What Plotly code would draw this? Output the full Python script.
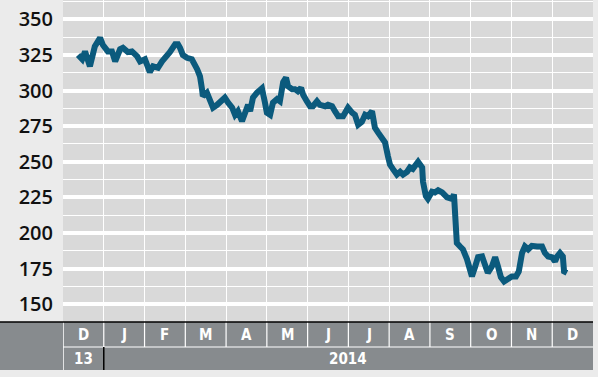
import plotly.graph_objects as go

# ---------------- data ----------------
# time position in months since 1 Dec 2013 (0 = start of Dec 2013)
t = [0.37, 0.47, 0.54, 0.66, 0.78, 0.91, 0.98, 1.10, 1.20, 1.28, 1.40, 1.47, 1.59, 1.69,
     1.82, 1.89, 2.01, 2.13, 2.21, 2.33, 2.43, 2.55, 2.62, 2.75, 2.82, 2.87, 2.94, 3.04,
     3.16, 3.29, 3.36, 3.41, 3.43, 3.53, 3.61, 3.68, 3.78, 3.90, 3.97, 4.05, 4.15, 4.22,
     4.29, 4.39, 4.46, 4.54, 4.59, 4.66, 4.76, 4.88, 4.95, 5.00, 5.08, 5.15, 5.25, 5.32,
     5.40, 5.47, 5.52, 5.62, 5.69, 5.76, 5.84, 5.89, 5.98, 6.06, 6.13, 6.23, 6.30, 6.43,
     6.50, 6.60, 6.67, 6.75, 6.87, 6.99, 7.09, 7.16, 7.24, 7.33, 7.41, 7.48, 7.58, 7.65,
     7.73, 7.82, 7.90, 7.97, 8.02, 8.09, 8.19, 8.27, 8.34, 8.44, 8.51, 8.58, 8.71, 8.81,
     8.83, 8.90, 8.95, 9.05, 9.12, 9.20, 9.30, 9.42, 9.54, 9.59, 9.64, 9.66, 9.74, 9.81,
     9.91, 9.96, 10.03, 10.11, 10.18, 10.28, 10.35, 10.42, 10.52, 10.60, 10.67, 10.74,
     10.82, 10.91, 11.01, 11.11, 11.18, 11.26, 11.33, 11.41, 11.50, 11.63, 11.75, 11.82,
     11.90, 11.99, 12.07, 12.12, 12.19, 12.26, 12.29, 12.36]
price = [325, 322, 327.5, 317, 331, 337, 332, 327.5, 327.5, 320.5, 329, 330, 327, 327.5,
         324, 320.5, 322, 313, 317, 316, 320.5, 324, 327, 332.5, 332.5, 330, 325, 323,
         322, 315, 310, 301, 296, 298.5, 291.5, 288, 290, 292.5, 295, 291.5, 288, 283,
         285.5, 278.5, 283, 290, 285.5, 295, 298.5, 301.5, 292, 284.5, 283, 291.5, 294, 292.5,
         306, 309, 303, 301, 301, 299.5, 302, 297, 292.5, 289, 289, 292.5, 290, 289,
         290, 289, 285.5, 282, 282, 288, 284.5, 283, 276, 278, 283, 282, 285.5, 274,
         270.5, 266, 263.5, 254, 248, 245, 241, 243, 241, 243, 246, 245, 250, 246,
         236, 226, 224, 229, 228.5, 230, 228.5, 225, 224, 227, 209.5, 193, 190.5, 188.5,
         181.5, 174.5, 169.5, 176.5, 183, 183.5, 179, 172, 176.5, 183, 176.5, 169,
         166, 167.5, 169.5, 169.5, 173, 186, 190.5, 188.5, 191, 190.5, 190.5, 186,
         183.5, 183, 180, 183.5, 186, 183.5, 173, 172]

month_labels = ["D", "J", "F", "M", "A", "M", "J", "J", "A", "S", "O", "N", "D"]
year_labels = ["13", "2014"]
y_ticks = [150, 175, 200, 225, 250, 275, 300, 325, 350]

# ---------------- layout constants (pixels) ----------------
W, H = 598, 377
ML, MR, MT, MB = 63, 5, 0, 55
PW = W - ML - MR
PH = H - MT - MB
BAND_TOP = 322
ROW_SPLIT = 347
BAND_BOT = 370


def px_x(px):
    return (px - ML) / PW


def px_y(py):
    return 1 - (py - MT) / PH


LINE_COLOR = "#0b5a7d"
PLOT_BG = "#d9d9d9"
PANEL_BG = "#ebebeb"
BAND = "#878b8e"
n_months = len(month_labels)

fig = go.Figure()
fig.add_trace(go.Scatter(x=t, y=price, mode="lines",
                         line=dict(color=LINE_COLOR, width=6),
                         hoverinfo="skip", showlegend=False))

shapes = []
# dark axis band
shapes.append(dict(type="rect", xref="paper", yref="paper",
                   x0=px_x(0), x1=px_x(ML + PW), y0=px_y(BAND_BOT), y1=px_y(BAND_TOP),
                   fillcolor=BAND, line=dict(width=0), layer="above"))
# white line separating rows
shapes.append(dict(type="line", xref="paper", yref="paper",
                   x0=px_x(ML), x1=px_x(ML + PW), y0=px_y(ROW_SPLIT), y1=px_y(ROW_SPLIT),
                   line=dict(color="white", width=1.2), layer="above"))
# white line at left of band
shapes.append(dict(type="line", xref="x", yref="paper",
                   x0=0, x1=0, y0=px_y(BAND_BOT), y1=px_y(BAND_TOP),
                   line=dict(color="white", width=1.5), layer="above"))
# month separators
for k in range(1, n_months):
    shapes.append(dict(type="line", xref="x", yref="paper",
                       x0=k, x1=k, y0=px_y(ROW_SPLIT), y1=px_y(BAND_TOP),
                       line=dict(color="white", width=1.2), layer="above"))
# year separator
shapes.append(dict(type="line", xref="x", yref="paper",
                   x0=1, x1=1, y0=px_y(BAND_BOT), y1=px_y(ROW_SPLIT),
                   line=dict(color="black", width=1.5), layer="above"))
# black top line of band
shapes.append(dict(type="line", xref="paper", yref="paper",
                   x0=px_x(0), x1=px_x(ML + PW), y0=px_y(BAND_TOP), y1=px_y(BAND_TOP),
                   line=dict(color="black", width=1.5), layer="above"))

annotations = []
label_font = dict(family="DejaVu Sans Condensed", size=15, color="white", weight="bold")
for k, lab in enumerate(month_labels):
    annotations.append(dict(x=k + 0.5, xref="x", y=px_y((BAND_TOP + ROW_SPLIT) / 2),
                            yref="paper", text=lab, showarrow=False, font=label_font,
                            xanchor="center", yanchor="middle"))
annotations.append(dict(x=0.5, xref="x", y=px_y((ROW_SPLIT + BAND_BOT) / 2), yref="paper",
                        text=year_labels[0], showarrow=False, font=label_font,
                        xanchor="center", yanchor="middle"))
annotations.append(dict(x=(1 + n_months) / 2, xref="x", y=px_y((ROW_SPLIT + BAND_BOT) / 2),
                        yref="paper", text=year_labels[1], showarrow=False, font=label_font,
                        xanchor="center", yanchor="middle"))

fig.update_layout(
    width=W, height=H,
    margin=dict(l=ML, r=MR, t=MT, b=MB, pad=0),
    paper_bgcolor=PANEL_BG, plot_bgcolor=PLOT_BG,
    shapes=shapes, annotations=annotations,
    xaxis=dict(range=[0, n_months], tick0=0, dtick=1, showgrid=True, gridcolor="white",
               gridwidth=1.2, showticklabels=False, zeroline=False, showline=False,
               ticks=""),
    yaxis=dict(range=[137.5, 363.6], tickvals=y_ticks, showgrid=True, gridcolor="white",
               gridwidth=3.5, zeroline=False, showline=False, ticks="",
               ticklabelstandoff=9,
               tickfont=dict(family="Open Sans", size=20, color="#111111", weight=600),
               minor=dict(dtick=12.5, tick0=150, showgrid=True, gridcolor="white",
                          gridwidth=1.2)),
)

fig.write_html("out.html")
